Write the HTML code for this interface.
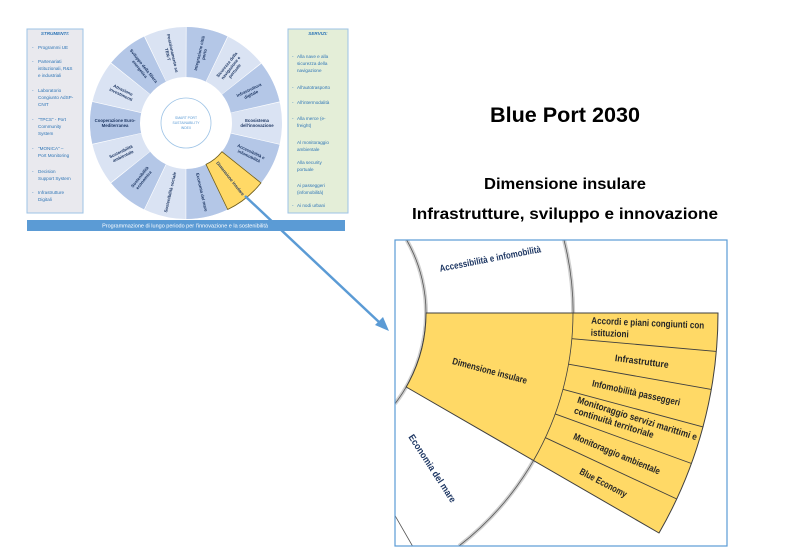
<!DOCTYPE html>
<html><head><meta charset="utf-8"><style>
html,body{margin:0;padding:0;background:#fff;width:790px;height:555px;overflow:hidden;}
svg{display:block;font-family:"Liberation Sans",sans-serif;}
</style></head><body>
<svg width="790" height="555" viewBox="0 0 790 555" xmlns="http://www.w3.org/2000/svg">
<defs><clipPath id="bx"><rect x="395" y="240" width="332" height="306"/></clipPath></defs>

<!-- left box -->
<rect x="27" y="29" width="56" height="184" fill="#e9e9ee" stroke="#9dc3e6" stroke-width="1"/>
<g font-size="4.6" fill="#2e75b6">
<text x="55" y="35" text-anchor="middle" font-weight="bold" font-style="italic">STRUMENTI:</text>
<text x="32" y="49">-</text><text x="38" y="49">Programmi UE</text>
<text x="32" y="63">-</text><text x="38" y="63">Partenariati</text><text x="38" y="70">istituzionali, R&amp;S</text><text x="38" y="77">e industriali</text>
<text x="32" y="92">-</text><text x="38" y="92">Laboratorio</text><text x="38" y="99">Congiunto AdSP-</text><text x="38" y="106">CNIT</text>
<text x="32" y="121">-</text><text x="38" y="121">"TPCS" - Port</text><text x="38" y="128">Community</text><text x="38" y="135">System</text>
<text x="32" y="150">-</text><text x="38" y="150">"MONICA" –</text><text x="38" y="157">Port Monitoring</text>
<text x="32" y="173">-</text><text x="38" y="173">Decision</text><text x="38" y="180">Support System</text>
<text x="32" y="194">-</text><text x="38" y="194">Infrastrutture</text><text x="38" y="201">Digitali</text>
</g>

<!-- right box -->
<rect x="288" y="29" width="60" height="184" fill="#e4eed8" stroke="#9dc3e6" stroke-width="1"/>
<g font-size="4.6" fill="#2e75b6">
<text x="318" y="35" text-anchor="middle" font-weight="bold" font-style="italic">SERVIZI:</text>
<text x="292" y="58">-</text><text x="297" y="58">Alla nave e alla</text><text x="297" y="65">sicurezza della</text><text x="297" y="72">navigazione</text>
<text x="292" y="89">-</text><text x="297" y="89">All'autotrasporto</text>
<text x="292" y="104">-</text><text x="297" y="104">All'intermodalità</text>
<text x="292" y="120">-</text><text x="297" y="120">Alla merce (e-</text><text x="297" y="127">freight)</text>
<text x="297" y="144">Al monitoraggio</text><text x="297" y="151">ambientale</text>
<text x="297" y="164">Alla security</text><text x="297" y="171">portuale</text>
<text x="297" y="187">Ai passeggeri</text><text x="297" y="194">(infomobilità)</text>
<text x="292" y="207">-</text><text x="297" y="207">Ai nodi urbani</text>
</g>

<!-- small ring -->
<circle cx="186" cy="123" r="71" fill="none" stroke="#dae3f3" stroke-width="50"/>
<circle cx="186" cy="123" r="71" fill="none" stroke="#b4c7e7" stroke-width="50" stroke-dasharray="31.865 31.865" transform="rotate(12.86 186 123)"/>
<circle cx="186" cy="123" r="71" fill="none" stroke="#ffffff" stroke-width="50" stroke-dasharray="0.6 31.265" transform="rotate(12.6 186 123)"/>
<path d="M221.9,151.7 L261,182.9 A96 96 0 0 1 227.7,209.5 L206,164.4 A46 46 0 0 0 221.9,151.7Z" fill="#ffd966" stroke="#6b5a1a" stroke-width="0.8"/>
<circle cx="186" cy="123" r="25" fill="#fff" stroke="#9dc3e6" stroke-width="0.8"/>
<g font-size="3.4" fill="#5b9bd5" text-anchor="middle">
<text x="186" y="119">SMART PORT</text><text x="186" y="124">SUSTAINABILITY</text><text x="186" y="129">INDEX</text>
</g>
<g font-size="4.3" font-weight="bold" fill="#1f3864" text-anchor="middle">
<g transform="translate(257,123)"><text y="-1">Ecosistema</text><text y="4">dell'innovazione</text></g>
<g transform="translate(250,153.8) rotate(25.7)"><text y="-1">Accessibilità e</text><text y="4">infomobilità</text></g>
<g transform="translate(230.3,178.5) rotate(51.4)"><text y="1.5">Dimensione insulare</text></g>
<g transform="translate(201.8,192.2) rotate(77.1)"><text y="1.5">Economia del mare</text></g>
<g transform="translate(170.2,192.2) rotate(-77.1)"><text y="1.5">Sostenibilità sociale</text></g>
<g transform="translate(141.7,178.5) rotate(-51.4)"><text y="-1">Sostenibilità</text><text y="4">economica</text></g>
<g transform="translate(122,153.8) rotate(-25.7)"><text y="-1">Sostenibilità</text><text y="4">ambientale</text></g>
<g transform="translate(115,123)"><text y="-1">Cooperazione Euro-</text><text y="4">Mediterranea</text></g>
<g transform="translate(122,92.2) rotate(25.7)"><text y="-1">Attrazione</text><text y="4">investimenti</text></g>
<g transform="translate(141.7,67.5) rotate(51.4)"><text y="-1">Sviluppo della filiera</text><text y="4">energetica</text></g>
<g transform="translate(170.2,53.8) rotate(77.1)"><text y="-1">Posizionamento su</text><text y="4">TEN-T</text></g>
<g transform="translate(201.8,53.8) rotate(-77.1)"><text y="-1">Integrazione città</text><text y="4">porto</text></g>
<g transform="translate(230.3,67.5) rotate(-51.4)"><text y="-3">Sicurezza della</text><text y="2">navigazione e</text><text y="7">portuale</text></g>
<g transform="translate(250,92.2) rotate(-25.7)"><text y="-1">Infrastruttura</text><text y="4">digitale</text></g>
</g>

<!-- bottom bar -->
<rect x="27" y="220" width="318" height="11" fill="#5b9bd5"/>
<text x="185" y="227.5" font-size="5.5" fill="#fff" text-anchor="middle">Programmazione di lungo periodo per l'innovazione e la sostenibilità</text>

<!-- arrow -->
<line x1="245" y1="196" x2="380" y2="323" stroke="#5b9bd5" stroke-width="2.5"/>
<polygon points="389,331 375,325 383,317" fill="#5b9bd5"/>

<!-- titles -->
<text x="565" y="122" font-size="21" font-weight="bold" fill="#000" text-anchor="middle" textLength="150" lengthAdjust="spacingAndGlyphs">Blue Port 2030</text>
<text x="565" y="189" font-size="15.5" font-weight="bold" fill="#000" text-anchor="middle" textLength="162" lengthAdjust="spacingAndGlyphs">Dimensione insulare</text>
<text x="565" y="219" font-size="15.5" font-weight="bold" fill="#000" text-anchor="middle" textLength="306" lengthAdjust="spacingAndGlyphs">Infrastrutture, sviluppo e innovazione</text>

<!-- zoom box -->
<rect x="395" y="240" width="332" height="306" fill="#fff"/>
<g clip-path="url(#bx)">
<path d="M564,240 A295 295 0 0 1 459,546" fill="none" stroke="#d0d0d0" stroke-width="4"/>
<path d="M564,240 A295 295 0 0 1 459,546" fill="none" stroke="#555" stroke-width="0.8"/>
<path d="M406.7,240 A148 148 0 0 1 395,403.7" fill="none" stroke="#d0d0d0" stroke-width="4"/>
<path d="M406.7,240 A148 148 0 0 1 395,403.7" fill="none" stroke="#555" stroke-width="0.8"/>
<line x1="395" y1="515.6" x2="412.5" y2="546" stroke="#555" stroke-width="0.8"/>
<path d="M426,313 L718,313 A440 440 0 0 1 659,533 L406.2,387 A148 148 0 0 0 426,313Z" fill="#ffd966" stroke="#3f3f3f" stroke-width="1"/>
<path d="M573,313 A295 295 0 0 1 533.5,460.5" fill="none" stroke="#3f3f3f" stroke-width="0.8"/>
<g stroke="#3f3f3f" stroke-width="0.9">
<line x1="571.9" y1="338.7" x2="716.3" y2="351.4"/>
<line x1="568.5" y1="364.2" x2="711.3" y2="389.4"/>
<line x1="562.9" y1="389.3" x2="703" y2="426.9"/>
<line x1="555.2" y1="413.9" x2="691.5" y2="463.5"/>
<line x1="545.4" y1="437.7" x2="676.8" y2="499"/>
</g>
<g font-size="9.5" font-weight="bold" fill="#262626">
<g transform="rotate(2.5 644.7 329)"><text x="591" y="326" textLength="113" lengthAdjust="spacingAndGlyphs">Accordi e piani congiunti con</text><text x="591" y="338" textLength="38" lengthAdjust="spacingAndGlyphs">istituzioni</text></g>
<text x="641.9" y="364.5" text-anchor="middle" textLength="54" lengthAdjust="spacingAndGlyphs" transform="rotate(7.5 641.9 360.9)">Infrastrutture</text>
<text x="636.3" y="396" text-anchor="middle" textLength="90" lengthAdjust="spacingAndGlyphs" transform="rotate(12.5 636.3 392.4)">Infomobilità passeggeri</text>
<g transform="rotate(17.5 628 423)"><text x="573" y="419" textLength="125" lengthAdjust="spacingAndGlyphs">Monitoraggio servizi marittimi e</text><text x="573" y="430" textLength="83" lengthAdjust="spacingAndGlyphs">continuità territoriale</text></g>
<text x="617" y="457" text-anchor="middle" textLength="93" lengthAdjust="spacingAndGlyphs" transform="rotate(22.5 617 453.4)">Monitoraggio ambientale</text>
<text x="603.5" y="486" text-anchor="middle" textLength="52" lengthAdjust="spacingAndGlyphs" transform="rotate(27.5 603.5 482.5)">Blue Economy</text>
<text x="490" y="374" text-anchor="middle" textLength="77" lengthAdjust="spacingAndGlyphs" transform="rotate(15 490 370)">Dimensione insulare</text>
</g>
<g font-size="9.5" font-weight="bold" fill="#1f3864">
<text x="490" y="262" text-anchor="middle" textLength="103" lengthAdjust="spacingAndGlyphs" transform="rotate(-11 490 258)">Accessibilità e infomobilità</text>
<text x="433" y="472" text-anchor="middle" textLength="79" lengthAdjust="spacingAndGlyphs" transform="rotate(57 433 468)">Economia del mare</text>
</g>
</g>
<rect x="395" y="240" width="332" height="306" fill="none" stroke="#5b9bd5" stroke-width="1.2"/>
</svg>
</body></html>
